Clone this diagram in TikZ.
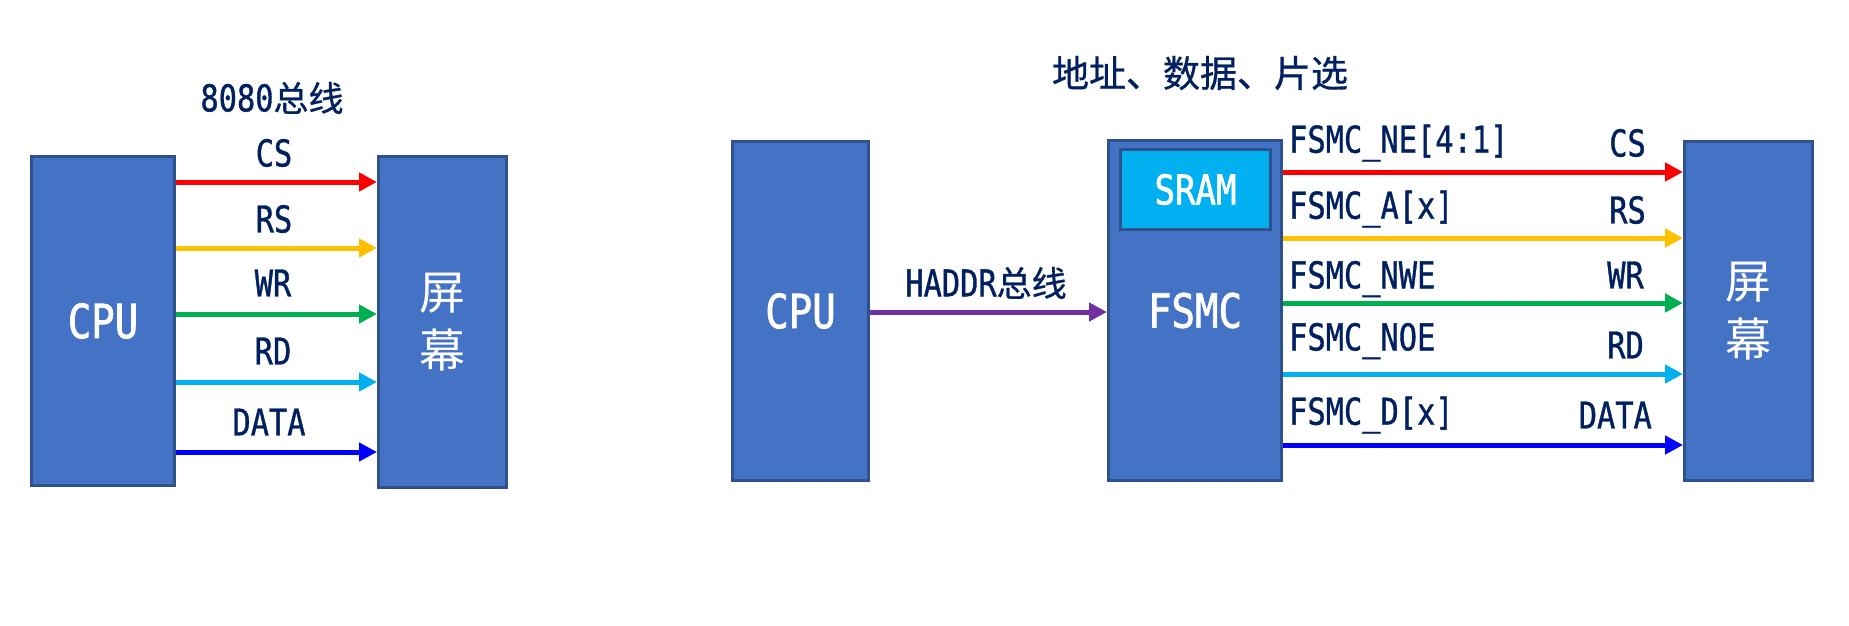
\documentclass[tikz,border=0pt]{standalone}
\usepackage{fontspec}
\usetikzlibrary{arrows.meta}
\newfontfamily\labfont[FakeStretch=0.82,FakeBold=1]{DejaVu Sans Mono}
\newfontfamily\boxfont[FakeStretch=0.83,FakeBold=1.5]{DejaVu Sans Mono}
\newfontfamily\cjkfont[FakeBold=0.8]{Noto Sans CJK SC}
\newfontfamily\cjkbox{Noto Sans CJK SC}
\definecolor{boxblue}{HTML}{4472C4}
\definecolor{boxedge}{HTML}{2F528F}
\definecolor{navy}{HTML}{002060}
\definecolor{sigred}{HTML}{FF0000}
\definecolor{sigyellow}{HTML}{FFC000}
\definecolor{siggreen}{HTML}{00B050}
\definecolor{sigcyan}{HTML}{00B0F0}
\definecolor{sigblue}{HTML}{0000FF}
\definecolor{sigpurple}{HTML}{7030A0}
\tikzset{
  blk/.style={draw=boxedge, line width=3pt, fill=boxblue, text=white, inner sep=0pt,
    font=\boxfont\fontsize{47}{56}\selectfont},
  scr/.style={blk, align=center, font=\cjkbox\fontsize{46}{58}\selectfont},
  lbl/.style={text=navy, inner sep=0pt, font=\labfont\fontsize{37}{44}\selectfont},
  ttl/.style={text=navy, inner sep=0pt, font=\cjkfont\fontsize{37}{44}\selectfont},
  sig/.style={line width=5pt, -{Triangle[length=18pt,width=18pt]}},
}
\newcommand{\zh}[1]{{\cjkfont\fontsize{35}{42}\selectfont #1}}
\begin{document}
\begin{tikzpicture}[x=1pt,y=-1pt]
\useasboundingbox (0,0) rectangle (1849,625);
% ---------- left: 8080 bus ----------
\node[blk, minimum width=143pt, minimum height=329pt] (cpuA) at (103,321) {CPU};
\node[scr, minimum width=128pt, minimum height=331pt] (scrA) at (442.5,322) {屏\\幕};
\node[lbl] (tA) at (272,98) {8080\zh{总线}};
\node[lbl] (lcs) at (274,153) {CS};
\node[lbl] (lrs) at (274,219) {RS};
\node[lbl] (lwr) at (273,283) {WR};
\node[lbl] (lrd) at (273,351) {RD};
\node[lbl] (ldata) at (269,422) {DATA};
\draw[sig, sigred]    (cpuA.east |- 0,182) -- (scrA.west |- 0,182);
\draw[sig, sigyellow] (cpuA.east |- 0,248) -- (scrA.west |- 0,248);
\draw[sig, siggreen]  (cpuA.east |- 0,314) -- (scrA.west |- 0,314);
\draw[sig, sigcyan]   (cpuA.east |- 0,382) -- (scrA.west |- 0,382);
\draw[sig, sigblue]   (cpuA.east |- 0,452) -- (scrA.west |- 0,452);
% ---------- right: FSMC ----------
\node[ttl] (tB) at (1200,73) {地址、数据、片选};
\node[blk, minimum width=136pt, minimum height=339pt] (cpuB) at (800.5,311) {CPU};
\node[blk, minimum width=173pt, minimum height=340pt] (fsmc) at (1195,310.5) {FSMC};
\node[blk, fill=sigcyan, minimum width=150pt, minimum height=80pt,
      font=\boxfont\fontsize{41}{49}\selectfont] (sram) at (1195.5,189.5) {SRAM};
\node[scr, minimum width=128pt, minimum height=339pt] (scrB) at (1748.5,311) {屏\\幕};
\node[lbl] (lhaddr) at (986,283) {HADDR\zh{总线}};
\draw[sig, sigpurple] (cpuB.east |- 0,312) -- (fsmc.west |- 0,312);
\node[lbl, anchor=west] (fne)  at (1289,143) {FSMC\_NE[4:1]};
\node[lbl, anchor=west] (fa)   at (1289,209) {FSMC\_A[x]};
\node[lbl, anchor=west] (fnwe) at (1289,279) {FSMC\_NWE};
\node[lbl, anchor=west] (fnoe) at (1289,341) {FSMC\_NOE};
\node[lbl, anchor=west] (fd)   at (1289,415) {FSMC\_D[x]};
\node[lbl, anchor=east] (rcs)   at (1646,143) {CS};
\node[lbl, anchor=east] (rrs)   at (1646,210) {RS};
\node[lbl, anchor=east] (rwr)   at (1644,275) {WR};
\node[lbl, anchor=east] (rrd)   at (1644,345) {RD};
\node[lbl, anchor=east] (rdata) at (1652,415) {DATA};
\draw[sig, sigred]    (fsmc.east |- 0,172) -- (scrB.west |- 0,172);
\draw[sig, sigyellow] (fsmc.east |- 0,238) -- (scrB.west |- 0,238);
\draw[sig, siggreen]  (fsmc.east |- 0,303) -- (scrB.west |- 0,303);
\draw[sig, sigcyan]   (fsmc.east |- 0,374) -- (scrB.west |- 0,374);
\draw[sig, sigblue]   (fsmc.east |- 0,445) -- (scrB.west |- 0,445);
\end{tikzpicture}
\end{document}
